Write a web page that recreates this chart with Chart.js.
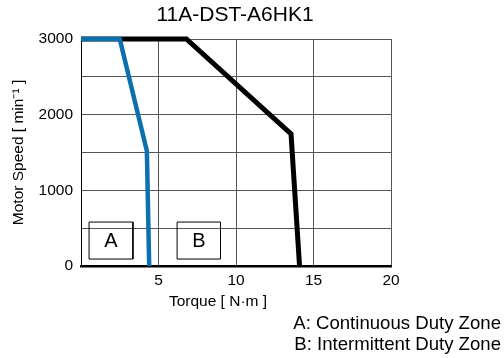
<!DOCTYPE html>
<html><head><meta charset="utf-8">
<script src="https://cdn.jsdelivr.net/npm/chart.js@4/dist/chart.umd.min.js"></script>
<style>html,body{margin:0;padding:0;background:#fff}#wrap{width:504px;height:358px}</style>
</head><body><div id="wrap"><canvas id="c" width="504" height="358"></canvas></div>
<script>
const chartTitle = '11A-DST-A6HK1';
const xAxisTitle = 'Torque [ N·m ]';
const yAxisTitle = 'Motor Speed [ min⁻¹ ]';
const notes = ['A: Continuous Duty Zone', 'B: Intermittent Duty Zone'];
const xTickLabels = [5, 10, 15, 20];
const yTickLabels = [0, 1000, 2000, 3000];
const continuousTorque = [0, 2.5, 4.25, 4.4];
const continuousSpeed = [3000, 3000, 1520, 0];
const intermittentTorque = [0, 6.8, 13.55, 14.1];
const intermittentSpeed = [3000, 3000, 1745, 0];
const zoneNames = ['A', 'B'];
const zoneTorque = [[0.52, 3.35], [6.2, 9.0]];
const zoneSpeed = [[92, 581], [92, 581]];

const FONT = 'Liberation Sans, Arial, sans-serif';
const pts = (xs, ys) => xs.map((x, i) => ({x, y: ys[i]}));
const rect = (xr, yr) => [
  {x: xr[0], y: yr[0]}, {x: xr[0], y: yr[1]}, {x: xr[1], y: yr[1]},
  {x: xr[1], y: yr[0]}, {x: xr[0], y: yr[0]}
];

const zoneSets = zoneNames.map((n, i) => ({
  label: 'Zone ' + n,
  data: rect(zoneTorque[i], zoneSpeed[i]),
  borderColor: '#000', borderWidth: 1, pointRadius: 0, fill: false,
  tension: 0, order: 2, borderJoinStyle: 'miter'
}));

const textPlugin = {
  id: 'texts',
  afterDraw(chart) {
    const ctx = chart.ctx, ca = chart.chartArea;
    const xs = chart.scales.x, ys = chart.scales.y;
    ctx.save();
    ctx.fillStyle = '#000';
    ctx.textBaseline = 'middle';
    ctx.textAlign = 'center';
    ctx.font = '21px ' + FONT;
    ctx.fillText(chartTitle, (ca.left + ca.right) / 2 - 1, 15);
    ctx.font = '15.5px ' + FONT;
    ctx.fillText(xAxisTitle, 218, 302);
    ctx.font = '20px ' + FONT;
    zoneNames.forEach((n, i) => {
      const cx = xs.getPixelForValue((zoneTorque[i][0] + zoneTorque[i][1]) / 2);
      const cy = ys.getPixelForValue((zoneSpeed[i][0] + zoneSpeed[i][1]) / 2);
      ctx.fillText(n, cx, cy + 1);
    });
    ctx.textAlign = 'right';
    ctx.font = '18.6px ' + FONT;
    ctx.fillText(notes[0], 501, 324);
    ctx.fillText(notes[1], 501, 345);
    ctx.restore();
  }
};

new Chart(document.getElementById('c'), {
  type: 'line',
  data: {
    datasets: [
      {
        label: 'Continuous', data: pts(continuousTorque, continuousSpeed),
        borderColor: '#0d70ae', borderWidth: 4.5, pointRadius: 0, fill: false,
        tension: 0, order: 0, borderJoinStyle: 'miter', borderCapStyle: 'butt', clip: 6
      },
      {
        label: 'Intermittent', data: pts(intermittentTorque, intermittentSpeed),
        borderColor: '#000', borderWidth: 5, pointRadius: 0, fill: false,
        tension: 0, order: 1, borderJoinStyle: 'miter', borderCapStyle: 'butt', clip: 6
      },
      ...zoneSets
    ]
  },
  options: {
    responsive: false, animation: false, devicePixelRatio: 1,
    layout: {padding: {top: 39, right: 113, bottom: 0, left: 0}},
    plugins: {legend: {display: false}, title: {display: false}, tooltip: {enabled: false}},
    scales: {
      x: {
        type: 'linear', min: 0, max: 20,
        afterFit: s => { s.height = 92; },
        ticks: {
          stepSize: 5, padding: 5, color: '#000', font: {size: 15.5, family: FONT},
          callback: v => xTickLabels.includes(v) ? String(v) : ''
        },
        grid: {color: '#555', lineWidth: 1, drawTicks: false},
        border: {color: '#000', width: 2.5}
      },
      y: {
        type: 'linear', min: 0, max: 3000,
        afterFit: s => { s.width = 81; },
        ticks: {
          stepSize: 500, padding: 8, color: '#000', font: {size: 15.5, family: FONT},
          callback: v => yTickLabels.includes(v) ? String(v) : ''
        },
        grid: {color: '#555', lineWidth: 1, drawTicks: false},
        border: {color: '#000', width: 1},
        title: {display: true, text: yAxisTitle, color: '#000', font: {size: 15.5, family: FONT}, padding: {top: 9, bottom: 0}}
      }
    }
  },
  plugins: [textPlugin]
});
</script></body></html>
